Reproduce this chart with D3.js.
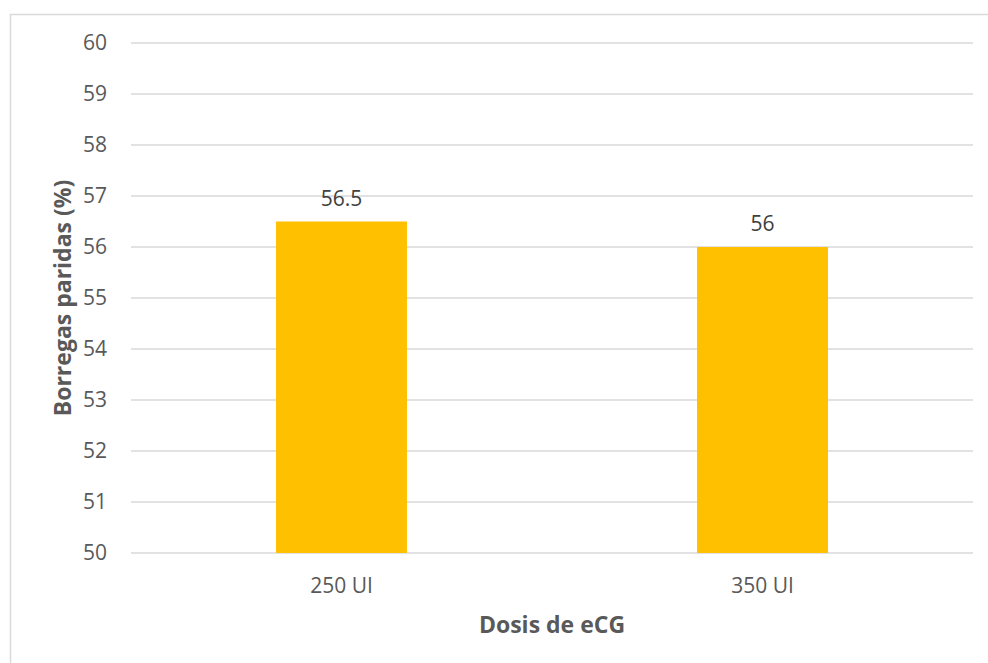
<!DOCTYPE html>
<html>
<head>
<meta charset="utf-8">
<script src="https://cdn.jsdelivr.net/npm/d3@7/dist/d3.min.js"></script>
<style>
  html, body { margin: 0; padding: 0; background: #fff; }
  svg { display: block; }
</style>
</head>
<body>
<svg id="chart" width="988" height="663"></svg>
<script>
const categories = ["250 UI", "350 UI"];
const values = [56.5, 56];
const yTicks = [50, 51, 52, 53, 54, 55, 56, 57, 58, 59, 60];
const yTitle = "Borregas paridas (%)";
const xTitle = "Dosis de eCG";

const svg = d3.select("#chart");
const W = 988, H = 663;
const m = { left: 131, right: 15, top: 43, bottom: 110 };
const plotW = W - m.left - m.right;
const plotH = H - m.top - m.bottom;
const font = "'Open Sans', 'Noto Sans', sans-serif";

svg.append("rect")
  .attr("x", 10.5).attr("y", 14.5)
  .attr("width", W).attr("height", H)
  .attr("fill", "#fff").attr("stroke", "#d9d9d9").attr("stroke-width", 1.5);

const x = d3.scaleBand().domain(categories).range([m.left, m.left + plotW])
  .paddingInner(0.689).paddingOuter(0.3445);
const y = d3.scaleLinear().domain([50, 60]).range([m.top + plotH, m.top]);

const g = svg.append("g");

// gridlines
g.selectAll("line.grid").data(yTicks).enter().append("line")
  .attr("x1", m.left).attr("x2", m.left + plotW)
  .attr("y1", d => y(d)).attr("y2", d => y(d))
  .attr("stroke", "#d9d9d9").attr("stroke-width", 1.3);

// y axis labels
const yAxis = d3.axisLeft(y).tickValues(yTicks).tickSize(0).tickPadding(24).tickFormat(d3.format("d"));
const ya = svg.append("g").attr("transform", `translate(${m.left},0)`).call(yAxis);
ya.select(".domain").remove();
ya.selectAll("text").attr("font-family", font).attr("font-size", 21).attr("fill", "#595959");

// bars
g.selectAll("rect.bar").data(values).enter().append("rect")
  .attr("x", (d, i) => x(categories[i]))
  .attr("width", x.bandwidth())
  .attr("y", d => y(d))
  .attr("height", d => y(50) - y(d))
  .attr("fill", "#FFC000");

// data labels
g.selectAll("text.lbl").data(values).enter().append("text")
  .attr("x", (d, i) => x(categories[i]) + x.bandwidth() / 2)
  .attr("y", d => y(d) - 16)
  .attr("text-anchor", "middle")
  .attr("font-family", font).attr("font-size", 21).attr("fill", "#404040")
  .text(d => d);

// x axis
const xAxis = d3.axisBottom(x).tickSize(0).tickPadding(25);
const xa = svg.append("g").attr("transform", `translate(0,${m.top + plotH})`).call(xAxis);
xa.select(".domain").remove();
xa.selectAll("text").attr("font-family", font).attr("font-size", 21).attr("fill", "#595959");

// axis titles
svg.append("text")
  .attr("x", m.left + plotW / 2).attr("y", 633)
  .attr("text-anchor", "middle")
  .attr("font-family", font).attr("font-size", 23).attr("font-weight", "bold").attr("fill", "#595959")
  .text(xTitle);

svg.append("text")
  .attr("transform", `translate(71,${m.top + plotH / 2}) rotate(-90)`)
  .attr("text-anchor", "middle")
  .attr("font-family", font).attr("font-size", 23).attr("font-weight", "bold").attr("fill", "#595959")
  .text(yTitle);
</script>
</body>
</html>
